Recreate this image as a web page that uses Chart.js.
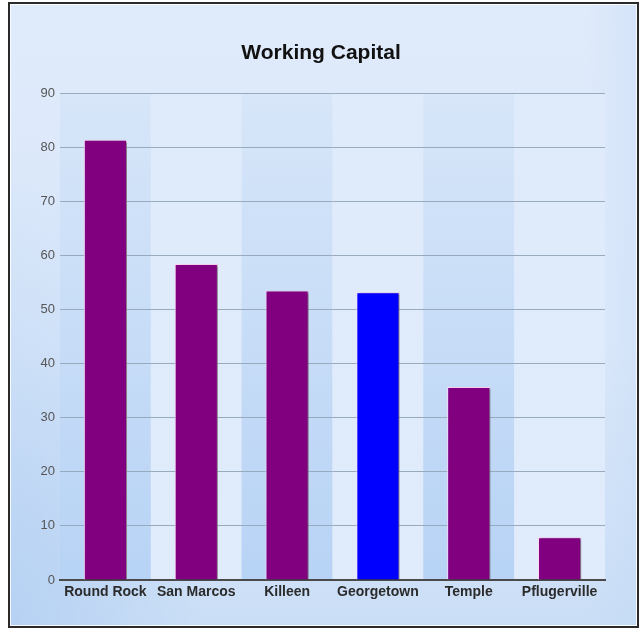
<!DOCTYPE html>
<html>
<head>
<meta charset="utf-8">
<script src="https://cdn.jsdelivr.net/npm/chart.js@4.4.1/dist/chart.umd.min.js"></script>
<style>
  html, body { margin: 0; padding: 0; background: #ffffff; }
  #frame {
    position: absolute; left: 8px; top: 2px; width: 627px; height: 622px;
    border: 2px solid #2a2a2a;
    box-shadow: inset 0 0 0 1px rgba(255,255,255,0.85);
    background:
      radial-gradient(ellipse 30% 80% at 0% 100%, rgba(175,205,242,0.75) 0%, rgba(175,205,242,0) 100%),
      linear-gradient(to right, rgba(185,211,244,0) 0%, rgba(185,211,244,0) 92%, rgba(190,214,245,0.3) 100%),
      linear-gradient(to bottom, #dfeafb 0%, #dce9fa 55%, #cadef6 100%);
  }
  #wrap { position: absolute; left: 0; top: 0; width: 642px; height: 630px; }
</style>
</head>
<body>
<div id="frame"></div>
<div id="wrap"><canvas id="c" width="642" height="630"></canvas></div>
<script>
const categories = ['Round Rock', 'San Marcos', 'Killeen', 'Georgetown', 'Temple', 'Pflugerville'];
const workingCapital = [81.4, 58.4, 53.5, 53.2, 35.7, 7.9];
const barColors = ['#800080', '#800080', '#800080', '#0000ff', '#800080', '#800080'];
const yMin = 0, yMax = 90, yStep = 10;
const chartTitle = 'Working Capital';

const bandPlugin = {
  id: 'bands',
  beforeDraw(chart) {
    const { ctx, chartArea, scales } = chart;
    const x = scales.x;
    const top = chartArea.top, bottom = chartArea.bottom;
    const w = x.getPixelForValue(1) - x.getPixelForValue(0);
    ctx.save();
    categories.forEach((c, i) => {
      const cx = x.getPixelForValue(i);
      const g = ctx.createLinearGradient(0, top, 0, bottom);
      if (i % 2 === 0) {
        g.addColorStop(0, '#d7e6f9');
        g.addColorStop(1, '#b7d3f5');
      } else {
        g.addColorStop(0, '#dfeafb');
        g.addColorStop(1, '#e0ebfc');
      }
      ctx.fillStyle = g;
      ctx.fillRect(cx - w / 2, top, w, bottom - top);
    });
    ctx.restore();
  }
};

const shadowPlugin = {
  id: 'barShadow',
  beforeDatasetsDraw(chart) {
    const ctx = chart.ctx;
    ctx.save();
    ctx.shadowColor = 'rgba(0,0,0,0.45)';
    ctx.shadowOffsetX = 3;
    ctx.shadowOffsetY = 1;
    ctx.shadowBlur = 2;
  },
  afterDatasetsDraw(chart) {
    chart.ctx.restore();
  }
};

new Chart(document.getElementById('c'), {
  type: 'bar',
  data: {
    labels: categories,
    datasets: [{
      data: workingCapital,
      backgroundColor: barColors,
      borderColor: 'rgba(255,215,245,0.95)',
      borderWidth: { top: 1, left: 1, right: 1, bottom: 0 },
      barPercentage: 0.475,
      categoryPercentage: 1.0
    }]
  },
  options: {
    responsive: false,
    animation: false,
    devicePixelRatio: 1,
    layout: { padding: { left: 0, right: 0, top: 0, bottom: 20 } },
    plugins: {
      legend: { display: false },
      tooltip: { enabled: false },
      title: {
        display: true,
        text: chartTitle,
        color: '#111111',
        font: { family: 'Liberation Sans, Arial, sans-serif', size: 21, weight: 'bold', lineHeight: 1.2 },
        padding: { top: 41, bottom: 27 }
      }
    },
    scales: {
      x: {
        offset: true,
        grid: { display: false, drawTicks: false },
        border: { display: true, color: '#4a4a4a', width: 2 },
        ticks: {
          color: '#2b2b2b',
          padding: 4,
          maxRotation: 0,
          autoSkip: false,
          font: { family: 'Liberation Sans, Arial, sans-serif', size: 14, weight: 'bold' }
        },
        afterFit(scale) { scale.height = 30; }
      },
      y: {
        min: yMin,
        max: yMax,
        grid: { color: '#98aabd', lineWidth: 1, drawTicks: false },
        border: { display: false },
        ticks: {
          stepSize: yStep,
          color: '#555555',
          padding: 5,
          font: { family: 'Liberation Sans, Arial, sans-serif', size: 13 }
        },
        afterFit(scale) { scale.width = 60; }
      },
      yRight: {
        position: 'right',
        display: true,
        min: yMin,
        max: yMax,
        grid: { display: false, drawTicks: false },
        border: { display: false },
        ticks: { display: false },
        afterFit(scale) { scale.width = 37; }
      }
    }
  },
  plugins: [bandPlugin, shadowPlugin]
});
</script>
</body>
</html>
